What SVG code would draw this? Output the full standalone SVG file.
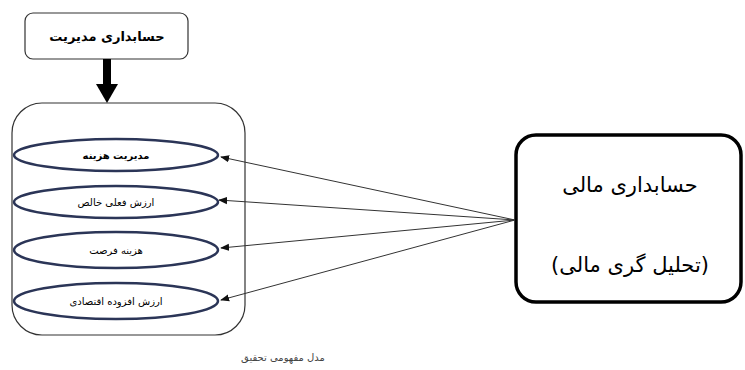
<svg xmlns="http://www.w3.org/2000/svg" width="745" height="370" viewBox="0 0 745 370">
<style>
.t{font-family:"DejaVu Sans",sans-serif;text-anchor:middle;direction:rtl}
.el{fill:#fff;stroke:#2b3557;stroke-width:2.5}
.ln{stroke:#333;stroke-width:1;fill:none}
</style>
<defs>
<marker id="ah" viewBox="0 0 10 10" refX="9" refY="5" markerWidth="9" markerHeight="9" markerUnits="userSpaceOnUse" orient="auto">
<path d="M0,1 L10,5 L0,9 Z" fill="#111"/>
</marker>
</defs>
<rect width="745" height="370" fill="#fff"/>
<g id="top">
<rect x="25" y="13" width="163" height="46" rx="8" fill="#fff" stroke="#333" stroke-width="1.2"/>
<text class="t" x="107" y="41" font-size="13" font-weight="bold">حسابداری مدیریت</text>
</g>
<g id="container">
<rect x="12" y="103" width="233" height="232" rx="30" fill="none" stroke="#333" stroke-width="1.2"/>
</g>
<g id="e1"><ellipse class="el" cx="116" cy="155" rx="102" ry="16"/><text class="t" x="116" y="159" font-size="10" font-weight="bold">مدیریت هزینه</text></g>
<g id="e2"><ellipse class="el" cx="116" cy="202" rx="102" ry="16"/><text class="t" x="116" y="206" font-size="10">ارزش فعلی خالص</text></g>
<g id="e3"><ellipse class="el" cx="116" cy="250" rx="102" ry="18"/><text class="t" x="116" y="254" font-size="10">هزینه فرصت</text></g>
<g id="e4"><ellipse class="el" cx="116" cy="301" rx="102" ry="18"/><text class="t" x="116" y="305" font-size="10">ارزش افزوده اقتصادی</text></g>
<g id="right">
<rect x="516" y="135" width="225" height="167" rx="20" fill="#fff" stroke="#000" stroke-width="3.5"/>
<text class="t" x="630" y="192" font-size="21">حسابداری  مالی</text>
<text class="t" x="630" y="272" font-size="21">(تحلیل گری مالی)</text>
</g>
<g id="connectors">
<rect x="103" y="59" width="8" height="27" fill="#000"/>
<path d="M96,84 L118,84 L107,103 Z" fill="#000"/>
<line class="ln" x1="515" y1="220" x2="221" y2="157" marker-end="url(#ah)"/>
<line class="ln" x1="515" y1="220" x2="219" y2="200" marker-end="url(#ah)"/>
<line class="ln" x1="515" y1="220" x2="221" y2="248" marker-end="url(#ah)"/>
<line class="ln" x1="515" y1="220" x2="221" y2="300" marker-end="url(#ah)"/>
</g>
<text class="t" x="283" y="361" font-size="10" fill="#444">مدل مفهومی تحقیق</text>
</svg>
